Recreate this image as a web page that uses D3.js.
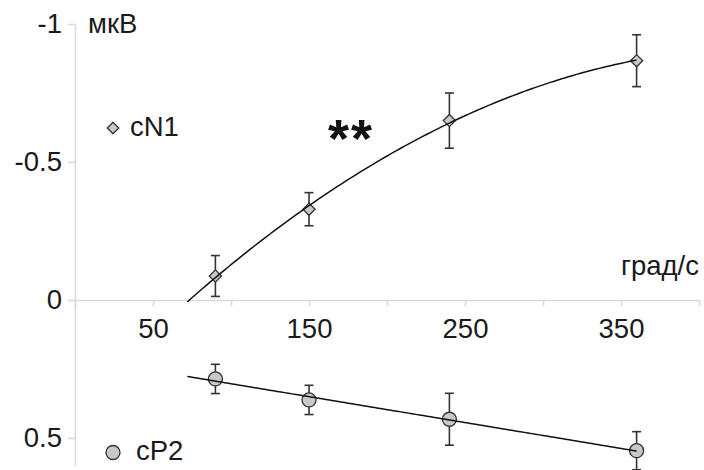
<!DOCTYPE html>
<html>
<head>
<meta charset="utf-8">
<script src="https://cdn.jsdelivr.net/npm/d3@7"></script>
<style>
  html, body { margin: 0; padding: 0; background: #fff; }
  svg { display: block; font-family: "Liberation Sans", Arial, sans-serif; }
</style>
</head>
<body>
<svg id="chart" width="704" height="470"></svg>
<script>
// Stimulus speed (deg/s) and mean amplitudes (µV); negative = upward on the plot
const speeds = [90, 150, 240, 360];
const cN1Mean = [-0.087, -0.329, -0.650, -0.867];
const cN1Err = [0.074, 0.060, 0.100, 0.094];
const cP2Mean = [0.286, 0.362, 0.432, 0.546];
const cP2Err = [0.053, 0.053, 0.094, 0.069];

// Range over which the fitted trend lines are drawn
const trendFrom = 72;
const trendTo = 360;

// Axis ticks and labels
const xTickValues = [0, 50, 100, 150, 200, 250, 300, 350, 400];
const xTickLabels = ["", "50", "", "150", "", "250", "", "350", ""];
const yTickValues = [-1, -0.5, 0, 0.5];
const yTickLabels = ["-1", "-0.5", "0", "0.5"];

const svg = d3.select("#chart");

const x = d3.scaleLinear().domain([0, 400]).range([75, 699]);
const y = d3.scaleLinear().domain([-1, 0.6]).range([24, 465.6]);

const axisColor = "#dadada";
const inkColor = "#1a1a1a";
const markStroke = "#333";
const markFill = "#c8c8c8";
const fontSize = "27.5px";

// Y axis
const yAxis = svg.append("g")
  .attr("transform", `translate(${x(0)},0)`)
  .call(d3.axisLeft(y)
    .tickValues(yTickValues)
    .tickFormat((d, i) => yTickLabels[i])
    .tickSize(7).tickSizeOuter(0).tickPadding(6));

// X axis at zero amplitude
const xAxis = svg.append("g")
  .attr("transform", `translate(0,${y(0)})`)
  .call(d3.axisBottom(x)
    .tickValues(xTickValues)
    .tickFormat((d, i) => xTickLabels[i])
    .tickSize(6).tickSizeOuter(0).tickPadding(12));

[yAxis, xAxis].forEach(g => {
  g.select(".domain").attr("stroke", axisColor).attr("stroke-width", 1.6);
  g.selectAll(".tick line").attr("stroke", axisColor).attr("stroke-width", 1.6);
  g.selectAll(".tick text")
    .attr("fill", inkColor)
    .style("font-size", fontSize)
    .style("font-family", "'Liberation Sans', Arial, sans-serif");
});

// Least-squares polynomial fit of given degree
function polyFit(xs, ys, deg) {
  const n = deg + 1;
  const A = Array.from({length: n}, () => new Array(n + 1).fill(0));
  xs.forEach((xv, k) => {
    for (let i = 0; i < n; i++) {
      for (let j = 0; j < n; j++) A[i][j] += Math.pow(xv, i + j);
      A[i][n] += ys[k] * Math.pow(xv, i);
    }
  });
  for (let i = 0; i < n; i++) {
    let p = i;
    for (let r = i + 1; r < n; r++) if (Math.abs(A[r][i]) > Math.abs(A[p][i])) p = r;
    [A[i], A[p]] = [A[p], A[i]];
    for (let r = 0; r < n; r++) {
      if (r === i) continue;
      const f = A[r][i] / A[i][i];
      for (let c = i; c <= n; c++) A[r][c] -= f * A[i][c];
    }
  }
  const coef = A.map((row, i) => row[n] / row[i]);
  return v => coef.reduce((s, c, i) => s + c * Math.pow(v, i), 0);
}

const cN1Fit = polyFit(speeds, cN1Mean, 2);
const cP2Fit = polyFit(speeds, cP2Mean, 1);

const line = d3.line().x(d => x(d[0])).y(d => y(d[1])).curve(d3.curveLinear);
function trendPoints(f) {
  const pts = [];
  const steps = 120;
  for (let i = 0; i <= steps; i++) {
    const v = trendFrom + (trendTo - trendFrom) * i / steps;
    pts.push([v, f(v)]);
  }
  return pts;
}

// Error bars
function errorBars(means, errs) {
  const g = svg.append("g").attr("stroke", markStroke).attr("stroke-width", 1.6).attr("fill", "none");
  speeds.forEach((s, i) => {
    const cx = x(s), top = y(means[i] - errs[i]), bot = y(means[i] + errs[i]);
    g.append("line").attr("x1", cx).attr("x2", cx).attr("y1", top).attr("y2", bot);
    g.append("line").attr("x1", cx - 4.5).attr("x2", cx + 4.5).attr("y1", top).attr("y2", top);
    g.append("line").attr("x1", cx - 4.5).attr("x2", cx + 4.5).attr("y1", bot).attr("y2", bot);
  });
}
errorBars(cN1Mean, cN1Err);
errorBars(cP2Mean, cP2Err);

const diamond = d3.symbol().type(d3.symbolDiamond2).size(95);

// cN1 markers
svg.append("g").selectAll("path")
  .data(speeds)
  .join("path")
  .attr("d", diamond)
  .attr("transform", (d, i) => `translate(${x(d)},${y(cN1Mean[i])})`)
  .attr("fill", markFill).attr("stroke", markStroke).attr("stroke-width", 1.3);

// cP2 markers
svg.append("g").selectAll("circle")
  .data(speeds)
  .join("circle")
  .attr("cx", d => x(d))
  .attr("cy", (d, i) => y(cP2Mean[i]))
  .attr("r", 7)
  .attr("fill", markFill).attr("stroke", markStroke).attr("stroke-width", 1.3);

// Trend lines
svg.append("path").datum(trendPoints(cN1Fit)).attr("d", line)
  .attr("fill", "none").attr("stroke", "#111").attr("stroke-width", 1.5);
svg.append("path").datum(trendPoints(cP2Fit)).attr("d", line)
  .attr("fill", "none").attr("stroke", "#111").attr("stroke-width", 1.5);

// Units and legend
const txt = (xp, yp, s, anchor = "start") => svg.append("text")
  .attr("x", xp).attr("y", yp).attr("text-anchor", anchor)
  .attr("fill", inkColor).style("font-size", fontSize).text(s);

txt(88, 33, "мкВ");
txt(699, 275, "град/с", "end");

svg.append("path").attr("d", d3.symbol().type(d3.symbolDiamond2).size(85))
  .attr("transform", "translate(113,128)")
  .attr("fill", markFill).attr("stroke", markStroke).attr("stroke-width", 1.3);
txt(130, 136, "cN1");

svg.append("circle").attr("cx", 113).attr("cy", 452.5).attr("r", 7)
  .attr("fill", markFill).attr("stroke", markStroke).attr("stroke-width", 1.3);
txt(136, 460, "cP2");

// Significance mark
svg.append("text").attr("x", 351).attr("y", 157).attr("text-anchor", "middle")
  .attr("fill", "#111").style("font-size", "54px").style("font-weight", "bold")
  .style("letter-spacing", "2px")
  .text("**");
</script>
</body>
</html>
